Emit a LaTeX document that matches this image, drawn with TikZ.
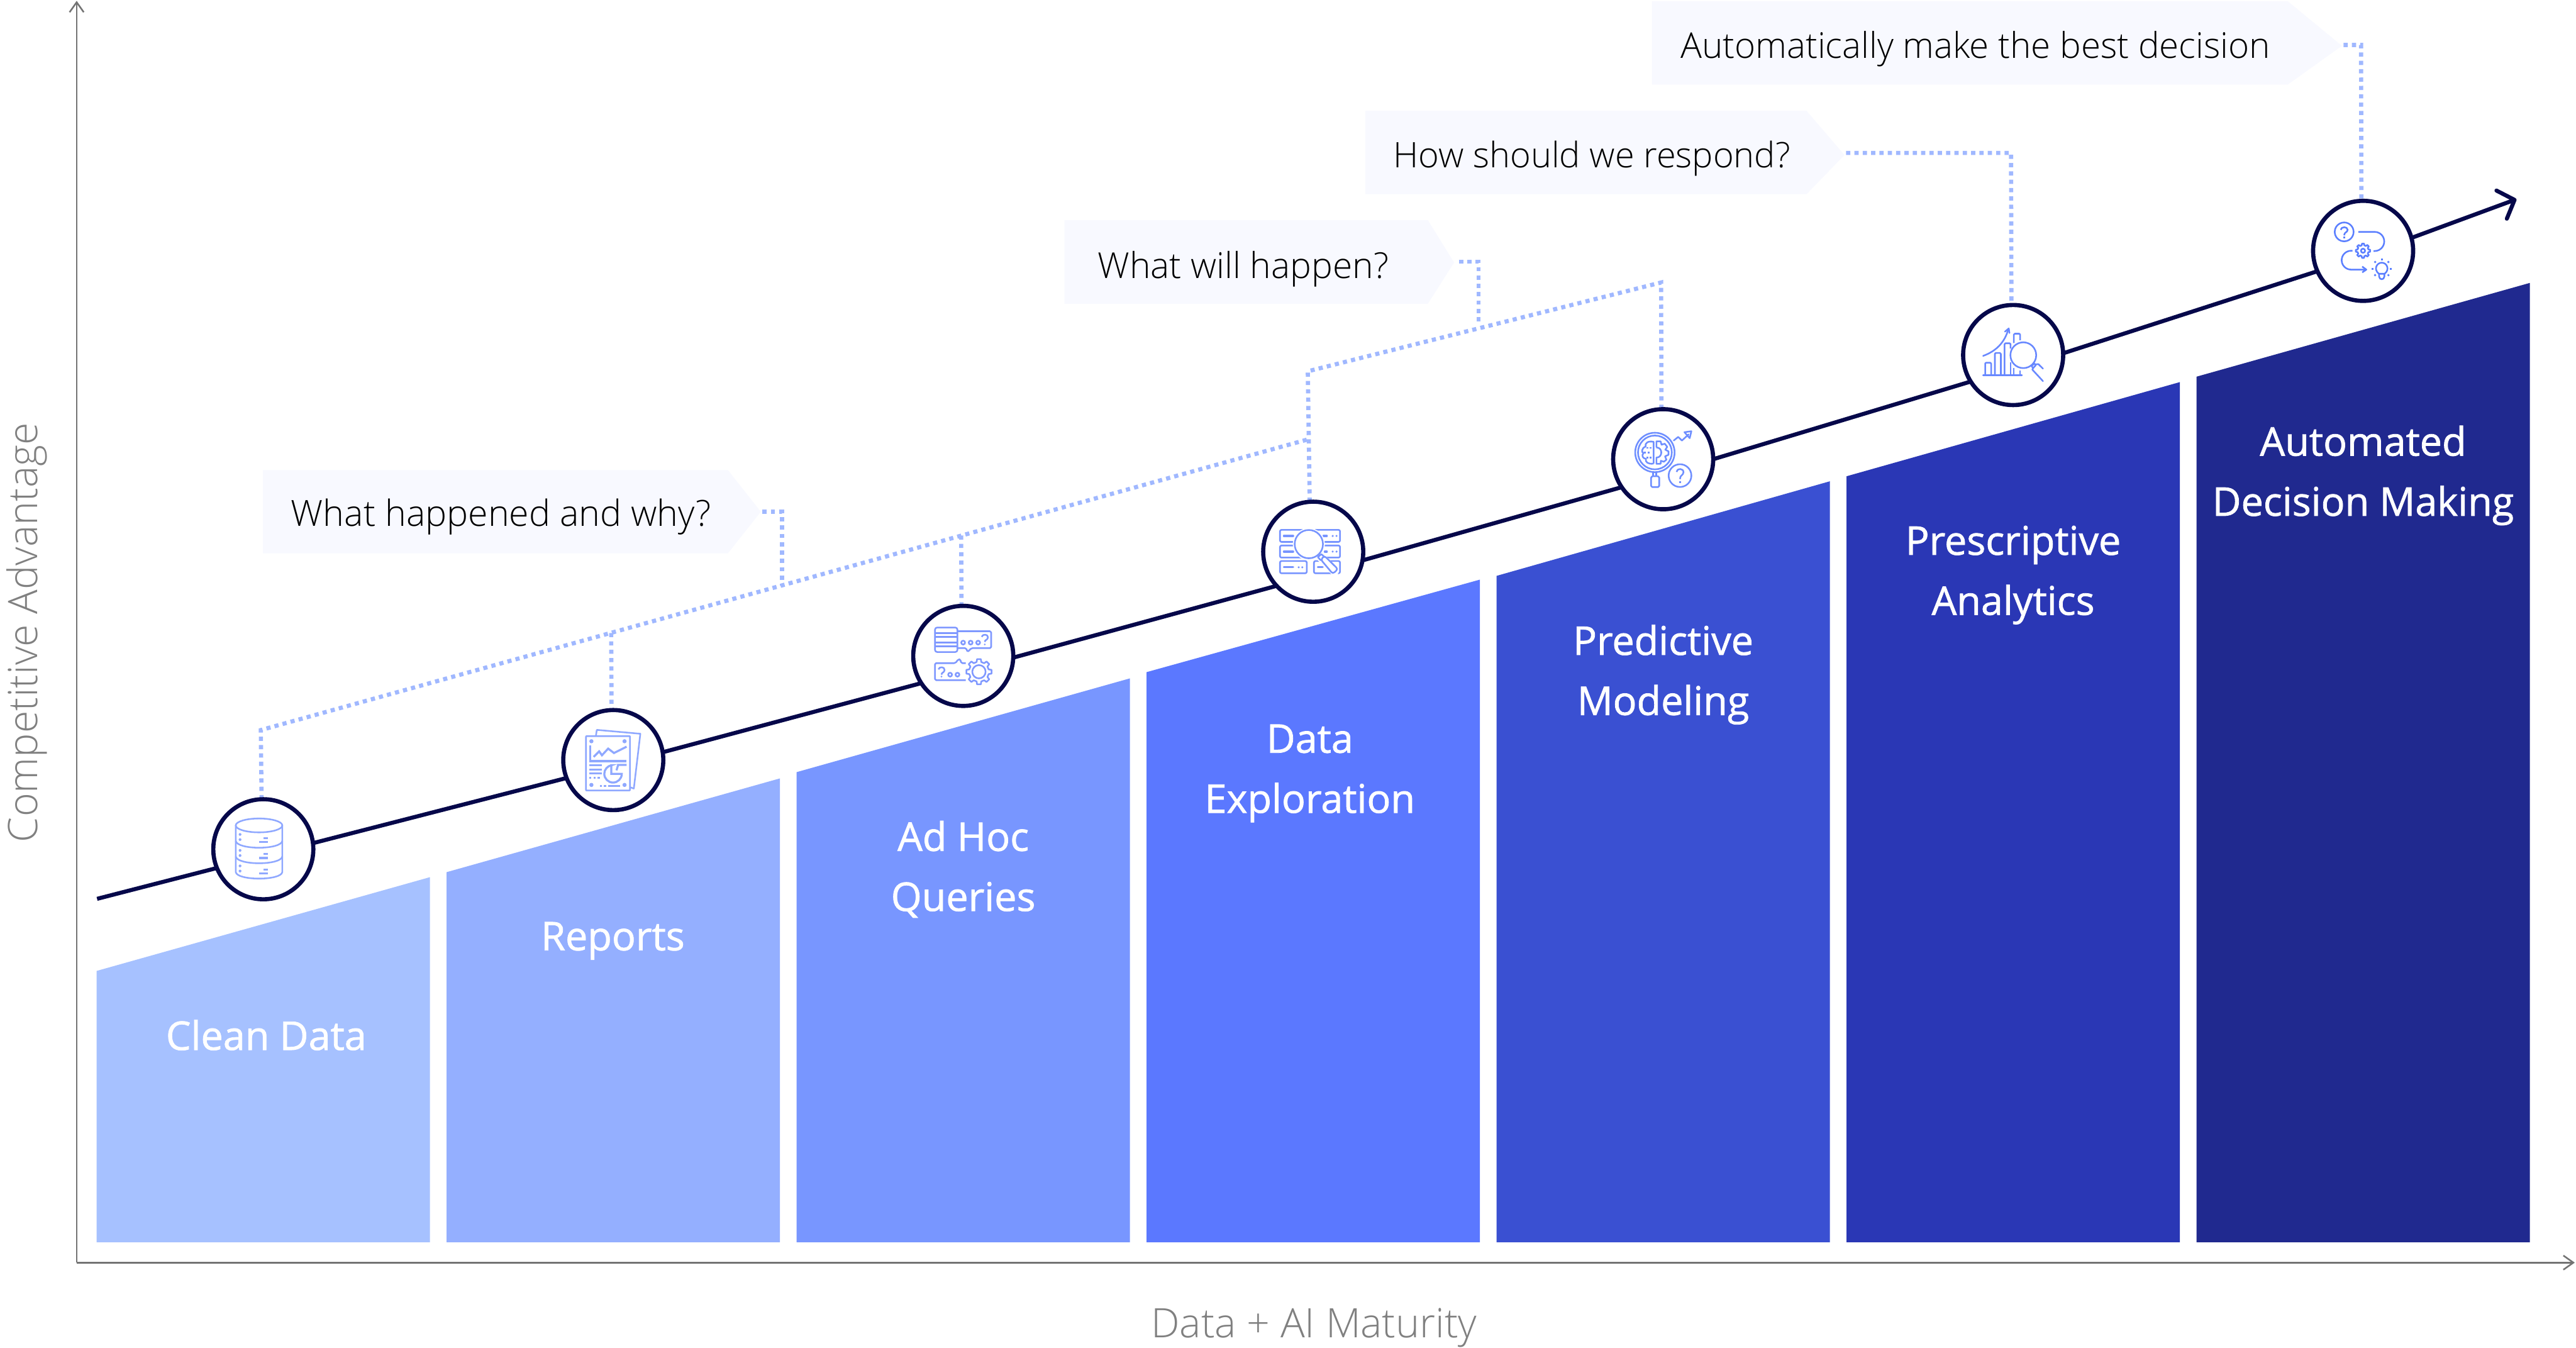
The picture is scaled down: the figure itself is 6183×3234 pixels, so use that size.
\documentclass[tikz,border=0pt]{standalone}
\usepackage{fontspec}
\setmainfont{Open Sans}
\newfontfamily\lightf{Open Sans Light}
\newfontfamily\medf{Open Sans}[FakeBold=1.2]
\usetikzlibrary{arrows.meta}
\pgfdeclarelayer{under}
\pgfsetlayers{under,main}
\definecolor{ink}{HTML}{06084A}
\definecolor{dotc}{HTML}{A0B8FF}
\definecolor{boxc}{HTML}{F8F9FF}
\definecolor{axisc}{HTML}{737373}
\definecolor{labc}{HTML}{808080}
\definecolor{bara}{HTML}{A6C1FF}
\definecolor{barb}{HTML}{94AFFF}
\definecolor{barc}{HTML}{7896FF}
\definecolor{bard}{HTML}{5B78FF}
\definecolor{bare}{HTML}{3A50D2}
\definecolor{barf}{HTML}{2A37B5}
\definecolor{barg}{HTML}{20298F}
\definecolor{iconcol}{HTML}{8FA8FF}
\definecolor{icona}{HTML}{8FA8FF}
\definecolor{iconb}{HTML}{7F98FF}
\definecolor{iconc}{HTML}{7794FF}
\definecolor{icond}{HTML}{6E8EFF}
\definecolor{icone}{HTML}{6888FF}
\definecolor{iconf}{HTML}{5B7FFF}
\tikzset{
  mile/.style={circle,draw=ink,fill=white,line width=2.85pt,minimum size=2.4cm,inner sep=0pt,outer sep=0pt},
  trend/.style={draw=ink,line width=2.75pt},
  dotline/.style={draw=dotc,line width=2.85pt,dash pattern=on 2.845pt off 2.845pt},
  axisline/.style={draw=axisc,line width=1.1pt,-{Straight Barb[length=0.24cm,width=0.34cm]}},
  barlabel/.style={text=white,font=\medf\fontsize{27}{41}\selectfont,align=center,inner sep=0pt},
  asklabel/.style={text=black,font=\lightf\fontsize{#1}{30}\selectfont,inner sep=0pt,anchor=base west},
  axislabel/.style={text=labc,font=\lightf\fontsize{27.7}{30}\selectfont,inner sep=0pt},
  ic/.style={draw=iconcol,line width=1.1pt,line join=round},
  icfat/.style={draw=iconcol,line width=1.4pt},
  icf/.style={fill=iconcol,draw=none},
  iconbox/.style={shift={(#1)},x=0.0033333cm,y=-0.0033333cm}
}
\newcommand\gearshape[5]{% x y outer inner teeth
  \begin{scope}[shift={(#1,#2)}]
  \draw[ic,fill=white] (90-0.3*360/#5:#4)
    \foreach \k [evaluate=\k as \a using 90+(\k-1)*360/#5] in {1,...,#5} {
      -- (\a-0.3*360/#5:#4) -- (\a-0.19*360/#5:#3) -- (\a+0.19*360/#5:#3) -- (\a+0.3*360/#5:#4)
    } -- cycle;
  \end{scope}}
\begin{document}
\begin{tikzpicture}[x=0.01cm,y=-0.01cm]
\useasboundingbox (0,0) rectangle (6183,3234);
\begin{pgfonlayer}{under}
\fill[white] (0,0) rectangle (6183,3234);
\end{pgfonlayer}

% axes
\coordinate (origin) at (184,3030);
\coordinate (ytip) at (184,2);
\coordinate (xtip) at (6180,3030);
\draw[axisline] (origin) -- (ytip);
\draw[axisline] (origin) -- (xtip);
\node[axislabel] (xlabel) at (3154,3186) {Data + AI Maturity};
\node[axislabel,rotate=90] (ylabel) at (64,1518) {Competitive Advantage};

% bars
\fill[bara] (232,2330) -- (1032,2105) -- (1032,2981) -- (232,2981) -- cycle;
\fill[barb] (1072,2093) -- (1872,1868) -- (1872,2981) -- (1072,2981) -- cycle;
\fill[barc] (1912,1853) -- (2712,1628) -- (2712,2981) -- (1912,2981) -- cycle;
\fill[bard] (2752,1613) -- (3552,1391) -- (3552,2981) -- (2752,2981) -- cycle;
\fill[bare] (3592,1382) -- (4392,1155) -- (4392,2981) -- (3592,2981) -- cycle;
\fill[barf] (4432,1143) -- (5232,917) -- (5232,2981) -- (4432,2981) -- cycle;
\fill[barg] (5272,904) -- (6072,679) -- (6072,2981) -- (5272,2981) -- cycle;
\node[barlabel] (la) at (639,2484) {Clean Data};
\node[barlabel] (lb) at (1471,2258) {Reports};
\node[barlabel] (lc) at (2312,2086) {Ad Hoc\\Queries};
\node[barlabel] (ld) at (3144,1856) {Data\\Exploration};
\node[barlabel] (le) at (3992,1619) {Predictive\\Modeling};
\node[barlabel] (lf) at (4832,1380) {Prescriptive\\Analytics};
\node[barlabel] (lg) at (5672,1141) {Automated\\Decision Making};

% callouts
\fill[boxc] (3965,3) -- (5491,3) -- (5621,110) -- (5491,203) -- (3965,203) -- cycle;
\fill[boxc] (3277,266) -- (4336,266) -- (4427,372) -- (4336,466) -- (3277,466) -- cycle;
\fill[boxc] (2555,528) -- (3427,528) -- (3490,630) -- (3427,729) -- (2555,729) -- cycle;
\fill[boxc] (631,1128) -- (1747,1128) -- (1826,1228) -- (1747,1328) -- (631,1328) -- cycle;
\node[asklabel=24.25] (qd) at (4033,140) {Automatically make the best decision};
\node[asklabel=24] (qc) at (3344,403) {How should we respond?};
\node[asklabel=24.4] (qb) at (2634,668) {What will happen?};
\node[asklabel=24.6] (qa) at (698,1263) {What happened and why?};

% milestones
\node[mile] (m1) at (632,2038) {};
\node[mile] (m2) at (1472,1824) {};
\node[mile] (m3) at (2312,1574) {};
\node[mile] (m4) at (3152,1324) {};
\node[mile] (m5) at (3992,1102) {};
\node[mile] (m6) at (4832,852) {};
\node[mile] (m7) at (5672,602) {};

\coordinate (low1) at (626,1752);
\coordinate (low2) at (3141,1054);
\coordinate (up1) at (3139,891);
\coordinate (up2) at (3987,678);
\coordinate (tipa) at (1830,1228);
\coordinate (benda) at (1877,1228);
\coordinate (joina) at (1877,1405);
\coordinate (join2) at (1467,1519);
\coordinate (join3) at (2307,1285);
\coordinate (tipb) at (3502,628);
\coordinate (bendb) at (3549,628);
\coordinate (joinb) at (3549,780);
\coordinate (tipc) at (4431,367);
\coordinate (bendc) at (4827,367);
\coordinate (tipd) at (5625,108);
\coordinate (bendd) at (5667,108);
\coordinate (tstart) at (233,2157);
\coordinate (tend) at (6040,478);
\begin{pgfonlayer}{under}
\draw[dotline] (m1.92) -- (low1) -- (low2);
\draw[dotline] (join2) -- (m2.92);
\draw[dotline] (join3) -- (m3.92);
\draw[dotline] (tipa) -- (benda) -- (joina);
\draw[dotline] (m4.94) -- (up1) -- (up2) -- (m5.92);
\draw[dotline] (tipb) -- (bendb) -- (joinb);
\draw[dotline] (tipc) -- (bendc) -- (m6.92);
\draw[dotline] (tipd) -- (bendd) -- (m7.92);
\draw[trend] (tstart) -- (m1.202);
\draw[trend] (m1.7) -- (m2.201);
\draw[trend] (m2.9) -- (m3.213);
\draw[trend] (m3.358) -- (m4.223);
\draw[trend] (m4.350) -- (m5.214);
\draw[trend] (m5.0) -- (m6.212);
\draw[trend] (m6.2) -- (m7.204);
\draw[trend,-{Straight Barb[length=0.33cm,width=0.72cm,round]}] (m7.15) -- (tend);
\end{pgfonlayer}

% icon 1: database
\begin{scope}[iconbox={460,1880}]
\colorlet{iconcol}{icona}
\draw[ic] (486,303) ellipse (168 and 50);
\draw[ic] (318,303) -- (318,640) .. controls (330,702) and (642,702) .. (654,640) -- (654,303);
\draw[ic] (318,415) .. controls (330,480) and (642,480) .. (654,415);
\draw[ic] (318,527) .. controls (330,592) and (642,592) .. (654,527);
\foreach \d in {0,115,227} {
  \fill[iconcol] (349,368+\d) circle (10);
  \fill[iconcol] (349,405+\d) circle (10);
  \fill[iconcol] (520,386+\d) rectangle (548,402+\d);
  \fill[iconcol] (486,415+\d) rectangle (548,430+\d);
}
\end{scope}

% icon 2: report pages
\begin{scope}[iconbox={1310,1670}]
\colorlet{iconcol}{icona}
\draw[ic] (362,285) -- (368,245) -- (682,273) -- (635,668) -- (612,660);
\draw[ic,rounded corners=0.3pt] (290,290) rectangle (607,682);
\foreach \p in {(329,327),(568,327),(329,642),(568,642)} \fill[iconcol] \p circle (15);
\draw[icfat] (322,358) -- (322,470) -- (583,470);
\draw[icfat] (345,440) -- (385,400) -- (405,428) -- (450,380) -- (492,412) -- (583,366);
\draw[icfat] (314,500) -- (405,500);
\draw[icfat] (314,530) -- (405,530);
\draw[icfat] (314,560) -- (405,560);
\draw[icfat] (314,590) -- (329,590);
\draw[icfat] (344,590) -- (359,590);
\draw[icfat] (374,590) -- (389,590);
\draw[icfat] (472,500) -- (472,562) -- (548,562) arc[start angle=0,end angle=260,radius=63] -- cycle;
\draw[icfat] (510,537) -- (522,497) -- (583,497);
\draw[icfat] (390,650) -- (405,650);
\draw[icfat] (420,650) -- (435,650);
\draw[icfat] (450,650) -- (538,650);
\end{scope}

% icon 3: queries
\begin{scope}[iconbox={2150,1420}]
\colorlet{iconcol}{iconb}
\draw[ic,rounded corners=1.5pt] (283,258) rectangle (445,435);
\draw[ic] (283,298) -- (445,298);
\draw[ic] (283,325) -- (445,325);
\draw[ic] (283,367) -- (445,367);
\draw[ic] (283,393) -- (445,393);
\draw[ic,rounded corners=0.8pt] (445,285) -- (688,285) -- (688,407) -- (545,407) -- (518,435) -- (508,407) -- (445,407);
\foreach \x in {486,540,594} \draw[ic] (\x,367) circle (14);
\draw[ic] (620,325) .. controls (625,303) and (668,305) .. (665,330) .. controls (662,350) and (642,345) .. (642,362);
\fill[iconcol] (642,380) circle (7);
\draw[ic,rounded corners=0.8pt] (505,515) -- (472,515) -- (465,487) -- (452,487) -- (430,515) -- (283,515) -- (283,638) -- (505,638);
\draw[ic] (308,560) .. controls (312,538) and (355,540) .. (352,565) .. controls (350,585) and (330,580) .. (330,598);
\fill[iconcol] (330,612) circle (7);
\foreach \x in {392,445} \draw[ic] (\x,598) circle (14);
\gearshape{600}{577}{92}{72}{8}
\draw[ic] (600,577) circle (48);
\end{scope}

% icon 4: data exploration
\begin{scope}[iconbox={3000,1180}]
\colorlet{iconcol}{iconc}
\draw[ic,rounded corners=1pt] (217,275) rectangle (650,362);
\draw[ic,rounded corners=1pt] (217,388) rectangle (650,475);
\draw[ic,rounded corners=1pt] (217,500) rectangle (410,588);
\draw[ic,rounded corners=1pt] (462,500) rectangle (650,588);
\draw[icfat,line cap=round] (245,319) -- (312,319);
\draw[icfat,line cap=round] (245,432) -- (312,432);
\draw[icfat,line cap=round] (245,545) -- (312,545);
\draw[icfat,line cap=round] (530,319) -- (555,319);
\draw[icfat,line cap=round] (540,432) -- (555,432);
\draw[icfat,line cap=round] (490,545) -- (525,545);
\foreach \p in {(597,319),(625,319),(597,432),(625,432),(352,545),(378,545)} \fill[iconcol] \p circle (8);
\fill[white] (425,378) circle (116);
\draw[white,line width=6pt,line cap=round] (510,470) -- (610,572);
\draw[ic] (425,378) circle (102);
\draw[ic,fill=white,rounded corners=0.3pt] (490,472) -- (515,450) -- (540,472) -- (512,495) -- cycle;
\draw[ic,fill=white,rounded corners=1.5pt] (512,490) -- (537,462) -- (635,558) -- (598,592) -- cycle;
\end{scope}

% icon 5: predictive model
\begin{scope}[iconbox={3840,950}]
\colorlet{iconcol}{icond}
\draw[ic] (397,408) circle (142);
\draw[ic] (397,408) circle (122);
\draw[ic] (385,552) -- (385,578);
\draw[ic] (407,552) -- (407,578);
\draw[ic,rounded corners=0.8pt] (370,580) rectangle (428,658);
\draw[ic] (388,488) -- (388,332) .. controls (350,322) and (322,340) .. (330,366) .. controls (300,375) and (298,410) .. (315,412) .. controls (298,430) and (310,452) .. (332,454) .. controls (325,478) and (350,495) .. (388,488);
\draw[ic] (338,375) -- (350,375);
\draw[ic] (358,375) -- (372,375);
\draw[ic] (320,410) -- (332,410);
\draw[ic] (345,410) -- (360,410);
\draw[ic] (338,445) -- (350,445);
\draw[ic] (358,445) -- (372,445);
\draw[ic] (408,372) -- (408,328) -- (438,328) -- (445,352) -- (468,345) -- (486,368) -- (472,388) -- (495,400) -- (495,425) -- (470,436) -- (480,460) -- (462,475) -- (440,468) -- (438,490) -- (408,490) -- (408,445) .. controls (455,445) and (455,372) .. (408,372);
\draw[ic,line cap=round] (533,322) -- (565,296) -- (592,322) -- (640,278);
\draw[ic,line join=round] (610,262) -- (660,255) -- (648,305) -- cycle;
\draw[ic] (578,575) circle (82);
\draw[ic] (553,548) .. controls (555,520) and (605,520) .. (603,552) .. controls (600,575) and (578,570) .. (578,600);
\fill[iconcol] (571,615) rectangle (585,630);
\end{scope}

% icon 6: prescriptive analytics
\begin{scope}[iconbox={4670,700}]
\colorlet{iconcol}{icone}
\draw[ic,line cap=round] (270,603) -- (550,603);
\draw[ic,rounded corners=0.6pt] (285,603) -- (285,512) -- (328,512) -- (328,603);
\draw[ic,rounded corners=0.6pt] (355,603) -- (355,442) -- (398,442) -- (398,603);
\draw[ic,rounded corners=0.6pt] (425,603) -- (425,372) -- (468,372) -- (468,410);
\draw[ic] (468,510) -- (468,603);
\draw[ic,rounded corners=0.6pt] (492,370) -- (492,303) -- (537,303) -- (537,350);
\draw[ic] (492,550) -- (492,603);
\draw[ic] (537,570) -- (537,603);
\draw[ic,line cap=round] (270,463) .. controls (360,430) and (425,370) .. (452,270);
\draw[ic,line cap=round] (428,288) -- (455,265) -- (460,298);
\draw[ic] (560,458) circle (93);
\draw[ic,rounded corners=0.2pt] (620,535) -- (640,518) -- (650,530) -- (630,552) -- cycle;
\draw[ic,line cap=round] (645,525) -- (668,522) -- (702,555);
\draw[ic,line cap=round] (632,548) -- (625,562) -- (702,645);
\end{scope}

% icon 7: automated decision
\begin{scope}[iconbox={5510,450}]
\colorlet{iconcol}{iconf}
\draw[ic] (350,320) circle (68);
\draw[ic] (325,305) .. controls (328,280) and (375,280) .. (375,305) .. controls (375,325) and (350,320) .. (350,345);
\fill[iconcol] (343,353) rectangle (357,367);
\draw[ic] (452,320) -- (570,320) arc[start angle=270,end angle=450,radius=69] -- (562,458);
\gearshape{486}{456}{52}{40}{8}
\draw[ic] (486,456) circle (15);
\draw[ic] (410,456) -- (400,456) arc[start angle=270,end angle=90,radius=68] -- (510,592);
\draw[ic] (480,570) -- (510,592) -- (480,612);
\draw[ic] (600,622) .. controls (560,590) and (585,542) .. (621,542) .. controls (657,542) and (682,590) .. (642,622) -- cycle;
\draw[ic] (602,625) -- (602,642) .. controls (605,668) and (637,668) .. (640,642) -- (640,625);
\foreach \p in {(621,517),(688,585),(554,585)} \fill[iconcol] \p ++(-7,-7) rectangle ++(14,14);
\foreach \p in {(573,537),(669,537),(573,632),(669,632)} \fill[iconcol] \p ++(-9,0) -- ++(9,-9) -- ++(9,9) -- ++(-9,9) -- cycle;
\end{scope}
\end{tikzpicture}
\end{document}
